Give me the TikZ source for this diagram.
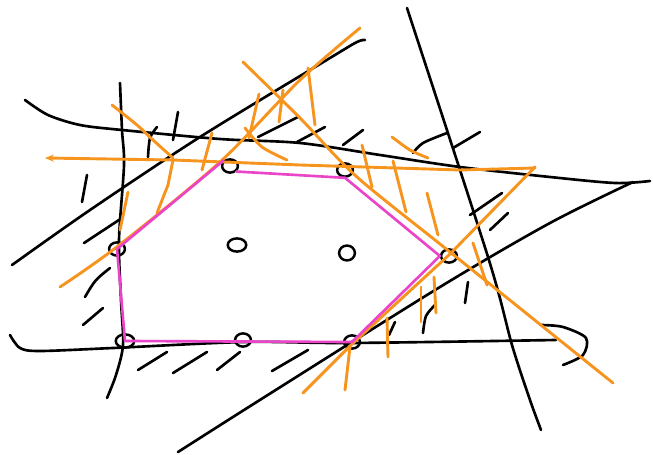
\documentclass[tikz,border=0pt]{standalone}
\usepackage{tikz}
\usetikzlibrary{positioning}
\usetikzlibrary{shapes.geometric}
\usetikzlibrary{arrows.meta}

\definecolor{markorange}{RGB}{246,148,30}
\definecolor{hullpink}{RGB}{234,68,200}

\tikzset{
  ink/.style={black,line width=3pt,line cap=round,line join=round},
  orangeink/.style={markorange,line width=3.3pt,line cap=round,line join=round},
  hull/.style={hullpink,line width=3pt,line cap=round,line join=round},
  sample/.style={ellipse,draw=black,line width=2.8pt,minimum width=18pt,minimum height=15pt,inner sep=0pt}
}

\begin{document}
\begin{tikzpicture}[x=0.04cm,y=-0.04cm]
\useasboundingbox[fill=white] (0,0) rectangle (653,455);

% half-plane boundaries
\draw[ink] plot[smooth] coordinates {(120,83) (122,130) (124,165) (119,240) (121,300) (123,345) (116,375) (107,398)};
\draw[ink] plot[smooth] coordinates {(25,100) (48,115) (80,125) (122,130) (220,139) (300,143) (380,155) (460,167) (550,177) (615,183) (650,181)};
\draw[ink] plot[smooth] coordinates {(12,265) (90,210) (200,137) (330,58) (357,42) (365,40)};
\draw[ink] plot[smooth] coordinates {(407,8) (488,257) (512,345) (530,400) (541,430)};
\draw[ink] plot[smooth] coordinates {(178,452) (263,398) (440,287) (550,223) (633,182)};
\draw[ink] plot[smooth] coordinates {(10,335) (20,348) (40,351) (113,348) (245,342) (350,343) (556,340)};
\draw[ink] plot[smooth] coordinates {(541,325) (563,327) (586,338) (583,355) (563,365)};

% hatching
\draw[ink] (258,137) -- (298,117);
\draw[ink] (297,142) -- (325,127);
\draw[ink] (343,145) -- (363,130);
\draw[ink] (84,243) -- (122,218);
\draw[ink] (87,175) -- (82,202);
\draw[ink] (85,297) .. controls (95,280) .. (110,268);
\draw[ink] (83,325) -- (103,308);
\draw[ink] plot[smooth] coordinates {(148,157) (150,138) (157,127)};
\draw[ink] (173,140) -- (178,112);
\draw[ink] plot[smooth] coordinates {(413,153) (423,143) (447,133)};
\draw[ink] (453,148) -- (480,132);
\draw[ink] (470,215) -- (502,193);
\draw[ink] (490,230) -- (508,213);
\draw[ink] (389,335) -- (395,322);
\draw[ink] plot[smooth] coordinates {(423,333) (426,316) (435,305)};
\draw[ink] (465,303) -- (468,282);
\draw[ink] (138,370) -- (167,352);
\draw[ink] (173,373) -- (207,352);
\draw[ink] (217,370) -- (240,352);
\draw[ink] (272,371) -- (308,350);

% points
\node[sample] (p1) at (230,166) {};
\node[sample] (p2) at (345,170) {};
\node[sample] (p3) at (117,249) {};
\node[sample,minimum width=21pt] (p4) at (237,245) {};
\node[sample,minimum height=17pt] (p5) at (347,253) {};
\node[sample] (p6) at (449,256) {};
\node[sample,minimum width=21pt] (p7) at (125,341) {};
\node[sample] (p8) at (243,340) {};
\node[sample] (p9) at (352,342) {};

% orange lines
\draw[orangeink,{Stealth[length=10pt,width=8pt]}-] (45,158) -- (173,160) -- (300,165) -- (460,170) -- (535,168);
\draw[orangeink] (535,167) -- (450,254) -- (350,346) -- (303,393);
\draw[orangeink] plot[smooth] coordinates {(60,287) (118,246) (220,162) (300,80) (360,28)};
\draw[orangeink] plot[smooth] coordinates {(243,62) (300,118) (357,177) (450,252) (613,383)};
\draw[orangeink] plot[smooth] coordinates {(112,105) (137,125) (153,140) (173,158)};
\draw[orangeink] plot[smooth] coordinates {(245,128) (262,147) (287,160)};
\draw[orangeink] plot[smooth] coordinates {(392,137) (410,150) (428,158)};

% orange ticks
\draw[orangeink] (173,160) -- (168,185) -- (157,213);
\draw[orangeink] (128,192) -- (120,230);
\draw[orangeink] (212,133) -- (202,170);
\draw[orangeink] (259,94) -- (249,138);
\draw[orangeink] (283,90) -- (279,122);
\draw[orangeink] (308,68) -- (315,125);
\draw[orangeink] (362,145) -- (372,187);
\draw[orangeink] (393,161) -- (406,212);
\draw[orangeink] (427,193) -- (438,235);
\draw[orangeink] (473,243) -- (487,285);
\draw[orangeink] (421,287) -- (421,322);
\draw[orangeink] (434,277) -- (436,313);
\draw[orangeink] (387,318) -- (388,357);
\draw[orangeink] (350,347) -- (345,390);

% hull
\draw[hull] (p3.center) -- (p1.north west);
\draw[hull] (p1.south east) -- (p2.south) -- (p6.west) -- (p9.center) -- (p7.center) -- (p3.center);

\end{tikzpicture}
\end{document}
